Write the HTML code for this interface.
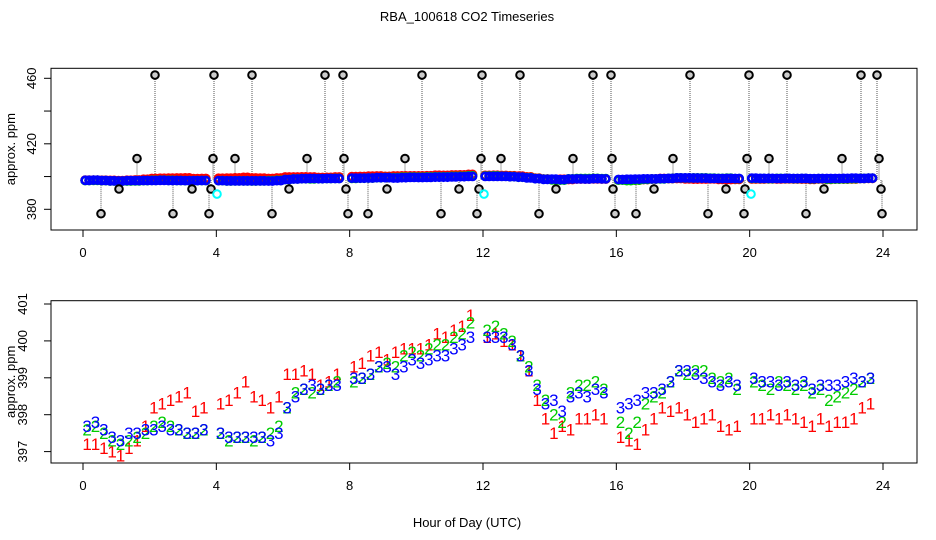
<!DOCTYPE html>
<html><head><meta charset="utf-8"><style>
html,body{margin:0;padding:0;background:#fff;}
svg{display:block;font-family:"Liberation Sans",sans-serif;}
</style></head><body>
<svg id="chart" width="936" height="540" viewBox="0 0 936 540">
<text x="467" y="21" text-anchor="middle" font-size="13">RBA_100618  CO2 Timeseries</text>
<text x="467" y="527" text-anchor="middle" font-size="13">Hour of Day (UTC)</text>
<g id="top"></g>
<g id="bot"></g>
</svg>
<script>
const xTicks=[0,4,8,12,16,20,24];
const topYTicks=[380,400,420,440,460];
const topYLabels=["380","","420","","460"];
const botYTicks=[397,398,399,400,401];
const t0=0.125, dt=0.25;
const s1=[397.2,397.2,397.1,397.0,396.9,397.1,397.3,397.7,398.2,398.3,398.4,398.5,398.6,398.1,398.2,null,398.3,398.4,398.6,398.9,398.5,398.4,398.2,398.5,399.1,399.1,399.2,399.1,398.8,398.9,399.1,null,399.3,399.4,399.6,399.7,399.5,399.7,399.8,399.8,399.8,399.9,400.2,400.1,400.3,400.4,400.7,null,400.1,400.2,400.0,399.9,399.6,399.2,398.4,397.9,397.5,397.7,397.6,397.9,397.9,398.0,397.9,null,397.4,397.3,397.2,397.6,397.9,398.2,398.1,398.2,398.0,397.8,397.9,398.0,397.7,397.6,397.7,null,397.9,397.9,398.0,397.9,398.0,397.9,397.8,397.7,397.9,397.7,397.8,397.8,397.9,398.2,398.3];
const s2=[397.6,397.7,397.5,397.3,397.2,397.3,397.4,397.5,397.7,397.8,397.7,397.6,397.5,397.5,397.6,null,397.5,397.3,397.4,397.4,397.3,397.4,397.5,397.7,398.2,398.6,398.7,398.6,398.7,398.8,398.9,null,398.9,399.0,399.1,399.3,399.4,399.3,399.6,399.7,399.6,399.8,399.9,399.9,400.1,400.2,400.5,null,400.3,400.4,400.2,400.0,399.6,399.3,398.8,398.4,398.0,397.8,398.6,398.8,398.8,398.9,398.7,null,397.8,397.5,397.8,398.3,398.5,398.6,398.9,399.2,399.1,399.2,399.2,399.0,398.9,399.0,398.7,null,398.9,398.8,398.7,398.9,398.8,398.7,398.8,398.6,398.7,398.4,398.5,398.6,398.7,398.9,399.0];
const s3=[397.7,397.8,397.6,397.4,397.3,397.5,397.5,397.6,397.6,397.7,397.6,397.6,397.5,397.5,397.6,null,397.5,397.4,397.4,397.4,397.4,397.4,397.3,397.5,398.2,398.5,398.7,398.8,398.7,398.8,398.8,null,399.0,399.0,399.1,399.3,399.3,399.1,399.3,399.5,399.4,399.5,399.6,399.6,399.8,399.9,400.1,null,400.1,400.1,400.1,399.9,399.6,399.2,398.7,398.3,398.4,398.1,398.5,398.6,398.5,398.7,398.6,null,398.2,398.3,398.4,398.6,398.6,398.7,398.9,399.2,399.2,399.1,399.0,398.9,398.8,398.9,398.8,null,399.0,398.9,398.9,398.8,398.9,398.8,398.9,398.7,398.8,398.8,398.8,398.9,399.0,398.9,399.0];
const spikeHours=[2.16,3.93,5.07,7.26,7.8,10.17,11.97,13.11,15.3,15.84,18.21,19.98,21.12,23.34,23.82,
 1.62,3.9,4.56,6.72,7.83,9.66,11.94,12.54,14.7,15.87,17.7,19.92,20.58,22.77,23.88,
 1.08,3.27,3.84,6.18,7.89,9.12,11.28,11.88,14.19,15.9,17.13,19.29,19.86,22.23,23.94,
 0.54,2.7,3.78,5.67,7.95,8.55,10.74,11.82,13.68,15.96,16.59,18.75,19.83,21.69,23.97];
const spikeValues=[462,462,462,462,462,462,462,462,462,462,462,462,462,462,462,
 411,411,411,411,411,411,411,411,411,411,411,411,411,411,411,
 392.4,392.4,392.4,392.4,392.4,392.4,392.4,392.4,392.4,392.4,392.4,392.4,392.4,392.4,392.4,
 377.3,377.3,377.3,377.3,377.3,377.3,377.3,377.3,377.3,377.3,377.3,377.3,377.3,377.3,377.3];
const cyanHours=[4.02,12.03,20.04];
const cyanValues=[389.3,389.3,389.3];

const NS="http://www.w3.org/2000/svg";
function mk(tag,attrs,parent){const e=document.createElementNS(NS,tag);for(const k in attrs)e.setAttribute(k,attrs[k]);parent.appendChild(e);return e;}
const L=51,R=917;
const xs=h=>83+h*(800/24);
function panel(g,top,bot,ys,yTicks,yLabels,labX,nm){
  const box=mk('rect',{x:L,y:top,width:R-L,height:bot-top,fill:'none',stroke:'#000','stroke-width':1},g);
  
  
  xTicks.forEach(t=>{
    const ln=mk('line',{x1:xs(t),x2:xs(t),y1:bot,y2:bot+7,stroke:'#000'},g);
    
    
    const tx=mk('text',{x:xs(t),y:bot+27,'text-anchor':'middle','font-size':13},g);
    tx.textContent=t;
    
    
  });
  yTicks.forEach((v,i)=>{
    const ln=mk('line',{x1:L-7,x2:L,y1:ys(v),y2:ys(v),stroke:'#000'},g);
    
    
    if(yLabels[i]){
      const tx=mk('text',{x:labX,y:ys(v),'text-anchor':'middle','font-size':13,transform:`rotate(-90 ${labX} ${ys(v)})`},g);
      tx.textContent=yLabels[i];
      
      
    }
  });
  const cy=(top+bot)/2, tx=15;
  const yt=mk('text',{x:tx,y:cy,'text-anchor':'middle','font-size':13,transform:`rotate(-90 ${tx} ${cy})`},g);
  yt.textContent='approx. ppm';
  
  
}
// top panel
const gt=document.getElementById('top');
const ysT=v=>78.3+(460-v)*1.6375;
panel(gt,68.3,230,ysT,topYTicks,topYLabels,36,'top');
spikeHours.forEach((h,i)=>{
  const ln=mk('line',{x1:xs(h),x2:xs(h),y1:ysT(spikeValues[i]),y2:ysT(398),stroke:'#aaa','stroke-width':2,'stroke-dasharray':'1,1'},gt);
  
  
});
[[s1,'#f00'],[s2,'#0c0'],[s3,'#00f']].forEach(([s,c],k)=>{
  s.forEach((v,i)=>{ if(v==null)return;
    const h=t0+dt*i;
    [-2,2].forEach(off=>{
      const ci=mk('circle',{cx:xs(h)+off,cy:ysT(v)+(k===0?-1:0),r:3.6,fill:'none',stroke:c,'stroke-width':2.6},gt);
      
      
    });
  });
});
spikeHours.forEach((h,i)=>{
  const ci=mk('circle',{cx:xs(h),cy:ysT(spikeValues[i]),r:3.8,fill:'#ccc',stroke:'#000','stroke-width':2},gt);
  
  
});
cyanHours.forEach((h,i)=>{
  const ci=mk('circle',{cx:xs(h),cy:ysT(cyanValues[i]),r:3.8,fill:'none',stroke:'#0ff','stroke-width':2},gt);
  
  
});
// bottom panel
const gb=document.getElementById('bot');
const ysB=v=>304+(401-v)*36.9;
panel(gb,300.7,463,ysB,botYTicks,botYTicks.map(String),27,'bottom');
[[s1,'#f00','1'],[s2,'#0c0','2'],[s3,'#00f','3']].forEach(([s,c,lab],k)=>{
  s.forEach((v,i)=>{ if(v==null)return;
    const h=t0+dt*i;
    const tx=mk('text',{x:xs(h),y:ysB(v)+6,'text-anchor':'middle','font-size':17,fill:c},gb);
    tx.textContent=lab;
    
    
  });
});
</script>
</body></html>
